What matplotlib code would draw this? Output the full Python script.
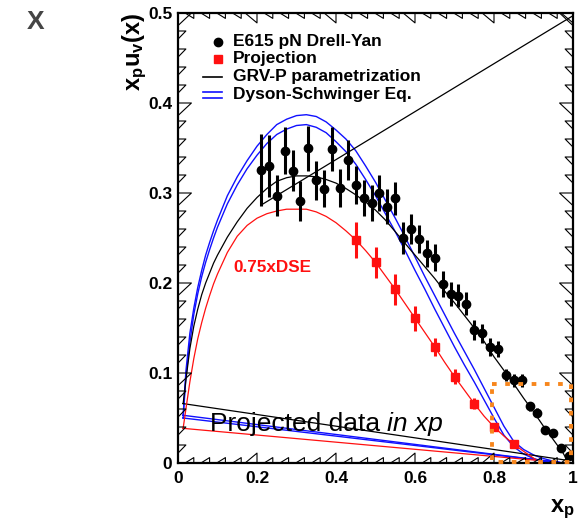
import numpy as np
import matplotlib
matplotlib.use('Agg')
import matplotlib.pyplot as plt
from matplotlib.transforms import blended_transform_factory

plt.rcParams['font.family'] = ['Liberation Sans', 'DejaVu Sans']
plt.rcParams['mathtext.fontset'] = 'custom'
plt.rcParams['mathtext.rm'] = 'Liberation Sans'
plt.rcParams['mathtext.bf'] = 'Liberation Sans:bold'
plt.rcParams['mathtext.it'] = 'Liberation Sans:italic'

# E615 pN Drell-Yan
e615_x = [0.21, 0.23, 0.25, 0.27, 0.29, 0.31, 0.33, 0.35, 0.37, 0.39,
          0.41, 0.43, 0.45, 0.47, 0.49, 0.51, 0.53, 0.55, 0.57, 0.59,
          0.61, 0.63, 0.65, 0.67, 0.69, 0.71, 0.73, 0.75, 0.77, 0.79,
          0.81, 0.83, 0.85, 0.87, 0.89, 0.91, 0.93, 0.95, 0.97, 0.99]
e615_y = [0.326, 0.330, 0.297, 0.347, 0.325, 0.291, 0.350, 0.314, 0.305, 0.349,
          0.306, 0.337, 0.309, 0.295, 0.289, 0.300, 0.285, 0.294, 0.250, 0.260,
          0.249, 0.233, 0.228, 0.199, 0.188, 0.186, 0.177, 0.148, 0.144, 0.129,
          0.127, 0.098, 0.092, 0.092, 0.063, 0.056, 0.037, 0.033, 0.017, 0.008]
e615_err = [0.040, 0.035, 0.023, 0.026, 0.023, 0.022, 0.025, 0.022, 0.021, 0.024,
            0.021, 0.022, 0.021, 0.020, 0.020, 0.020, 0.019, 0.018, 0.018, 0.017,
            0.016, 0.015, 0.015, 0.014, 0.013, 0.013, 0.013, 0.011, 0.011, 0.010,
            0.009, 0.007, 0.007, 0.007, 0.005, 0.005, 0.004, 0.004, 0.003, 0.003]

# projection
proj_x = [0.45, 0.50, 0.55, 0.60, 0.65, 0.70, 0.75, 0.80, 0.85]
proj_y = [0.248, 0.223, 0.193, 0.161, 0.129, 0.096, 0.066, 0.040, 0.021]
proj_err = [0.020, 0.017, 0.017, 0.014, 0.010, 0.008, 0.006, 0.004, 0.003]

# Dyson-Schwinger band (two edges)
dse_x = [0.013, 0.02, 0.03, 0.04, 0.05, 0.06, 0.07, 0.08, 0.09, 0.1,
         0.125, 0.15, 0.175, 0.2, 0.225, 0.25, 0.275, 0.3, 0.325, 0.35,
         0.375, 0.4, 0.425, 0.45, 0.475, 0.5, 0.525, 0.55, 0.575, 0.6,
         0.625, 0.65, 0.675, 0.7, 0.725, 0.75, 0.775, 0.8, 0.825, 0.85,
         0.875, 0.9, 0.925, 0.95, 0.975]
dse_hi = [0.053, 0.102, 0.144, 0.172, 0.195, 0.214, 0.231, 0.245, 0.258, 0.270,
          0.297, 0.318, 0.336, 0.352, 0.365, 0.376, 0.382, 0.386, 0.387, 0.385,
          0.379, 0.370, 0.360, 0.347, 0.330, 0.312, 0.292, 0.272, 0.251, 0.229,
          0.207, 0.186, 0.165, 0.144, 0.124, 0.104, 0.083, 0.062, 0.041, 0.024,
          0.015, 0.009, 0.005, 0.002, 0.0]
dse_lo = [0.050, 0.095, 0.134, 0.165, 0.188, 0.207, 0.223, 0.237, 0.250, 0.262,
          0.288, 0.309, 0.327, 0.342, 0.355, 0.365, 0.371, 0.375, 0.376, 0.373,
          0.367, 0.357, 0.346, 0.332, 0.315, 0.297, 0.277, 0.257, 0.236, 0.214,
          0.193, 0.171, 0.150, 0.129, 0.109, 0.090, 0.070, 0.050, 0.031, 0.018,
          0.010, 0.005, 0.002, 0.001, 0.0]

# GRV-P parametrization
grv_x = [0.013, 0.02, 0.03, 0.04, 0.05, 0.06, 0.07, 0.08, 0.09, 0.1,
         0.125, 0.15, 0.175, 0.2, 0.225, 0.25, 0.275, 0.3, 0.325, 0.35,
         0.375, 0.4, 0.425, 0.45, 0.475, 0.5, 0.525, 0.55, 0.575, 0.6,
         0.625, 0.65, 0.675, 0.7, 0.725, 0.75, 0.775, 0.8, 0.825, 0.85,
         0.875, 0.9, 0.925, 0.95, 0.975, 0.985]
grv_y = [0.066, 0.092, 0.127, 0.152, 0.171, 0.187, 0.200, 0.211, 0.222, 0.231,
         0.251, 0.268, 0.283, 0.295, 0.305, 0.313, 0.317, 0.319, 0.319, 0.318,
         0.315, 0.311, 0.305, 0.298, 0.290, 0.281, 0.270, 0.257, 0.244, 0.231,
         0.218, 0.205, 0.191, 0.178, 0.164, 0.150, 0.135, 0.118, 0.103, 0.088,
         0.072, 0.057, 0.041, 0.026, 0.011, 0.003]
grv_band_x = [0.212, 0.212, 1.0]
grv_band_y = [0.318, 0.287, 0.497]

# 0.75 x DSE
dse075_x = [0.013, 0.02, 0.03, 0.04, 0.05, 0.06, 0.07, 0.08, 0.09, 0.1,
            0.125, 0.15, 0.175, 0.2, 0.225, 0.25, 0.275, 0.3, 0.325, 0.35,
            0.375, 0.4, 0.425, 0.45, 0.475, 0.5, 0.525, 0.55, 0.575, 0.6,
            0.625, 0.65, 0.675, 0.7, 0.725, 0.75, 0.775, 0.8, 0.825, 0.85,
            0.875, 0.908]
dse075_y = [0.0385, 0.060, 0.090, 0.116, 0.138, 0.156, 0.172, 0.186, 0.199, 0.210,
            0.234, 0.252, 0.264, 0.272, 0.277, 0.280, 0.282, 0.282, 0.282, 0.279,
            0.274, 0.267, 0.258, 0.248, 0.236, 0.223, 0.208, 0.193, 0.177, 0.161,
            0.145, 0.129, 0.112, 0.096, 0.081, 0.066, 0.052, 0.040, 0.030, 0.021,
            0.013, 0.003]

# high-x region
box_x = [0.795, 0.995, 0.995, 0.795, 0.795]
box_y = [0.0875, 0.0875, 0.0015, 0.0015, 0.0875]

xticks = [0, 0.2, 0.4, 0.6, 0.8, 1.0]
xtick_labels = ['0', '0.2', '0.4', '0.6', '0.8', '1']
yticks = [0, 0.1, 0.2, 0.3, 0.4, 0.5]
ytick_labels = ['0', '0.1', '0.2', '0.3', '0.4', '0.5']

BLUE = '#1010ff'
RED = '#ff1010'
ORANGE = '#f7861c'


def closed(xs, ys):
    # curve plus the segment back to its first point
    return list(xs) + [xs[0]], list(ys) + [ys[0]]


def sawtooth_ticks(ax):
    """ROOT style triangular ticks on all four sides"""
    tl = blended_transform_factory(ax.transAxes, ax.transData)
    tb = blended_transform_factory(ax.transData, ax.transAxes)
    kw = dict(color='k', lw=0.8, clip_on=False, zorder=5)
    for t in np.arange(0.02, 0.501, 0.02):
        major = abs(t * 10 - round(t * 10)) < 1e-6
        L = 0.034 if major else 0.02
        d = 0.014 if major else 0.009
        ax.plot([0, L, 0], [t, t, t - d], transform=tl, **kw)
        ax.plot([1, 1 - L, 1], [t, t, t - d], transform=tl, **kw)
    for t in np.arange(0.04, 1.001, 0.04):
        major = abs(t * 5 - round(t * 5)) < 1e-6
        h = 0.022 if major else 0.012
        d = 0.03 if major else 0.022
        ax.plot([t, t, t - d], [0, h, 0], transform=tb, **kw)
        ax.plot([t, t, t - d], [1, 1 - h, 1], transform=tb, **kw)


fig = plt.figure(figsize=(5.83, 5.23), dpi=100)
ax = fig.add_axes([178 / 583, 1 - 463 / 523, 395 / 583, 450 / 523])
ax.set_xlim(0, 1)
ax.set_ylim(0, 0.5)

# theory curves
for ys in (dse_hi, dse_lo):
    cx, cy = closed(dse_x, ys)
    ax.plot(cx, cy, color=BLUE, lw=1.0, zorder=2)
cx, cy = closed(grv_x, grv_y)
ax.plot(cx, cy, color='k', lw=0.9, zorder=2)
ax.plot(grv_band_x, grv_band_y, color='k', lw=0.9, zorder=2)
cx, cy = closed(dse075_x, dse075_y)
ax.plot(cx, cy, color=RED, lw=0.9, zorder=2)

# data
ax.errorbar(e615_x, e615_y, yerr=e615_err, fmt='o', color='k', ms=6,
            elinewidth=2.2, capsize=0, zorder=4)
ax.errorbar(proj_x, proj_y, yerr=proj_err, fmt='s', color=RED, ms=6,
            elinewidth=2.2, capsize=0, zorder=4)

ax.plot(box_x, box_y, color=ORANGE, lw=2.8, linestyle=(0, (1.2, 2.2)),
        dash_capstyle='butt', clip_on=False, zorder=6)

# axes
for sp in ax.spines.values():
    sp.set_linewidth(1.6)
ax.set_xticks(xticks)
ax.set_xticklabels(xtick_labels)
ax.set_yticks(yticks)
ax.set_yticklabels(ytick_labels)
ax.tick_params(length=0, labelsize=12.5, pad=6)
ax.tick_params(axis='y', pad=4)
for lab in ax.get_xticklabels() + ax.get_yticklabels():
    lab.set_fontweight('bold')
sawtooth_ticks(ax)

ax.text(-0.11, 1.0, r'$\mathbf{x_{p}u_{v}(x)}$', transform=ax.transAxes,
        rotation=90, ha='center', va='top', fontsize=17)
ax.text(1.005, -0.11, r'$\mathbf{x_{p}}$', transform=ax.transAxes,
        ha='right', va='baseline', fontsize=17)

# legend
lx0, lx1, lm, lt = 0.063, 0.111, 0.101, 0.139
rows = [0.9356, 0.8978, 0.8578, 0.8178]
ax.plot([lm], [rows[0]], 'o', color='k', ms=6, transform=ax.transAxes)
ax.plot([lm], [rows[1]], 's', color=RED, ms=6, transform=ax.transAxes)
ax.plot([lx0, lx1], [rows[2], rows[2]], color='k', lw=1.2, transform=ax.transAxes)
for off in (0.0065, -0.0065):
    ax.plot([lx0, lx1], [rows[3] + off, rows[3] + off], color=BLUE, lw=1.2,
            transform=ax.transAxes)
labels = ['E615 pN Drell-Yan', 'Projection', 'GRV-P parametrization', 'Dyson-Schwinger Eq.']
for r, s in zip(rows, labels):
    ax.text(lt, r, s, transform=ax.transAxes, va='center', ha='left',
            fontsize=12.5, fontweight='bold')

ax.text(0.139, 0.217, '0.75xDSE', color=RED, fontsize=12.3, fontweight='bold',
        va='center', ha='left')

t1 = ax.text(0.081, 0.035, 'Projected data ', fontsize=19, va='baseline', ha='left',
             zorder=7)
ax.annotate('in xp', xy=(1, 0), xycoords=t1, va='bottom', ha='left',
            fontsize=19, style='italic', zorder=7)

fig.text(36 / 583, 1 - 22 / 523, 'X', fontsize=19, fontweight='bold', color='#454545',
         ha='center', va='center')

fig.savefig('out.png', dpi=100)
